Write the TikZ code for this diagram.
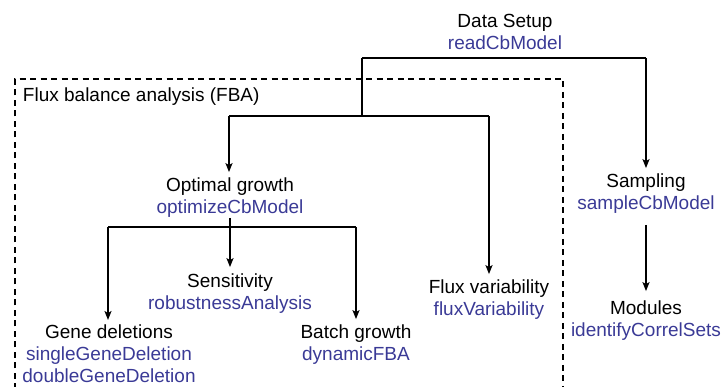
\documentclass[tikz,border=0pt]{standalone}
\usepackage{fontspec}
\setmainfont{Liberation Sans}
\usetikzlibrary{arrows.meta}
\definecolor{fnblue}{RGB}{58,58,150}
\newcommand{\fn}[1]{\textcolor{fnblue}{#1}}
\tikzset{
  label/.style={align=center, inner sep=0pt, outer sep=0pt,
    font=\fontsize{19}{22}\selectfont},
  link/.style={line width=1.6pt},
  arr/.style={link, -{Stealth[length=9pt,width=7pt,inset=2pt]}},
  group/.style={line width=1.4pt, dash pattern=on 6pt off 4.5pt},
}
\begin{document}
\begin{tikzpicture}[x=1pt,y=-1pt]
  \useasboundingbox (0,0) rectangle (721,387);

  % FBA group frame (open at the bottom)
  \draw[group] (15,400) -- (15,79) -- (563,79) -- (563,400);
  \node[label, anchor=base west] (fba) at (23,102) {Flux balance analysis (FBA)};

  % tool nodes
  \node[label] (setup)  at (505,32)  {Data Setup\\\fn{readCbModel}};
  \node[label] (optim)  at (230,198) {Optimal growth\\\fn{optimizeCbModel}};
  \node[label] (samp)   at (646,194) {Sampling\\\fn{sampleCbModel}};
  \node[label] (fva)    at (489,300) {Flux variability\\\fn{fluxVariability}};
  \node[label] (mods)   at (646,321) {Modules\\\fn{identifyCorrelSets}};
  \node[label] (sens)   at (230,294) {Sensitivity\\\fn{robustnessAnalysis}};
  \node[label] (batch)  at (356,345) {Batch growth\\\fn{dynamicFBA}};
  \node[label] (gene)   at (109,354) {Gene deletions\\\fn{singleGeneDeletion}\\\fn{doubleGeneDeletion}};

  % junction points of the connector bars
  \coordinate (topL) at (362,58);
  \coordinate (topR) at (646,58);
  \coordinate (fbaL) at (229,116);
  \coordinate (fbaR) at (489,116);
  \coordinate (optL) at (108,227);
  \coordinate (optM) at (230,227);
  \coordinate (optR) at (356,227);
  \coordinate (sampOut) at (646,225);

  % connectors
  \draw[link] (topL) -- (topR);
  \draw[link] (topL) -- (topL |- fbaL);
  \draw[link] (fbaL) -- (fbaR);
  \draw[arr, shorten >=6pt] (topR) -- (topR |- samp.north);
  \draw[arr, shorten >=6pt] (fbaL) -- (fbaL |- optim.north);
  \draw[arr, shorten >=6pt] (fbaR) -- (fbaR |- fva.north);

  \draw[link] (optL) -- (optR);
  \draw[link] (optim.south -| optM) -- (optM);
  \draw[arr, shorten >=5pt] (optL) -- (optL |- gene.north);
  \draw[arr, shorten >=7pt] (optM) -- (optM |- sens.north);
  \draw[arr, shorten >=6pt] (optR) -- (optR |- batch.north);

  \draw[arr, shorten >=10pt] (sampOut) -- (sampOut |- mods.north);
\end{tikzpicture}
\end{document}
